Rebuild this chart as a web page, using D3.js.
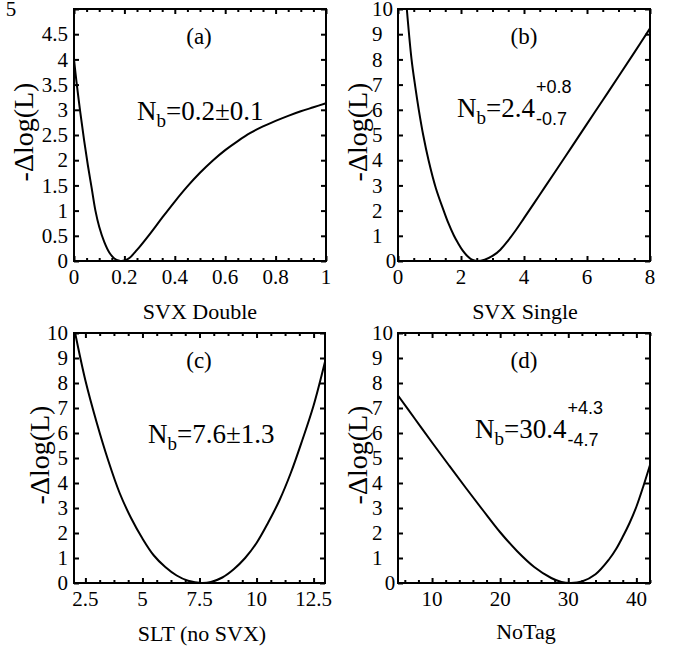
<!DOCTYPE html>
<html><head><meta charset="utf-8">
<script src="https://cdn.jsdelivr.net/npm/d3@7"></script>
<style>
body{margin:0;background:#fff}
svg{display:block}
text{font-family:"Liberation Serif","Times New Roman",serif;fill:#000}
</style>
</head><body>
<svg id="chart" width="677" height="650"></svg>
<script>
// ---------- data ----------
const aX = [0, 0.01, 0.025, 0.04, 0.055, 0.07, 0.085, 0.1, 0.12, 0.14, 0.16, 0.18, 0.19, 0.2, 0.22, 0.25, 0.3, 0.35, 0.4, 0.45, 0.5, 0.55, 0.6, 0.65, 0.7, 0.75, 0.8, 0.85, 0.9, 0.95, 1.0];
const aY = [4.0, 3.55, 2.95, 2.4, 1.9, 1.45, 1.0, 0.68, 0.38, 0.17, 0.05, 0.005, 0.0, 0.01, 0.06, 0.22, 0.53, 0.86, 1.18, 1.48, 1.75, 1.99, 2.2, 2.38, 2.54, 2.67, 2.78, 2.88, 2.97, 3.05, 3.13];

const bX = [0.28, 0.43, 0.55, 0.66, 0.8, 0.97, 1.2, 1.45, 1.6, 1.77, 1.9, 2.05, 2.2, 2.35, 2.5, 2.75, 3.0, 3.25, 3.5, 3.75, 4.0, 4.5, 5.0, 5.5, 6.0, 6.5, 7.0, 7.5, 8.0];
const bY = [10, 8, 6.9, 6, 5, 4, 2.9, 2.0, 1.5, 1.02, 0.72, 0.42, 0.2, 0.05, 0, 0.05, 0.2, 0.45, 0.82, 1.24, 1.7, 2.63, 3.56, 4.5, 5.44, 6.38, 7.32, 8.27, 9.23];

const cX = [2.05, 2.5, 3, 3.5, 4, 4.5, 5, 5.5, 6, 6.5, 7, 7.6, 8, 8.5, 9, 9.5, 10, 10.5, 11, 11.5, 12, 12.5, 13];
const cY = [10, 8.1, 6.4, 4.9, 3.6, 2.6, 1.78, 1.1, 0.64, 0.3, 0.09, 0, 0.04, 0.22, 0.55, 1.0, 1.6, 2.4, 3.3, 4.4, 5.7, 7.1, 8.85];

const dX = [5, 7.5, 10, 12.5, 15, 17.5, 20, 22.5, 25, 27.5, 29, 30.4, 32, 34, 36, 37, 38, 39, 40, 41, 42];
const dY = [7.5, 6.56, 5.62, 4.7, 3.79, 2.9, 2.03, 1.27, 0.64, 0.2, 0.04, 0, 0.06, 0.35, 0.95, 1.35, 1.85, 2.4, 3.05, 3.85, 4.72];

// tick values / labels
const aXTicks = [0, 0.2, 0.4, 0.6, 0.8, 1];
const aXTickLabels = ["0", "0.2", "0.4", "0.6", "0.8", "1"];
const aYTicks = [0, 0.5, 1, 1.5, 2, 2.5, 3, 3.5, 4, 4.5, 5];
const aYTickLabels = ["0", "0.5", "1", "1.5", "2", "2.5", "3", "3.5", "4", "4.5", "5"];
const bXTicks = [0, 2, 4, 6, 8];
const bXTickLabels = ["0", "2", "4", "6", "8"];
const cXTicks = [2.5, 5, 7.5, 10, 12.5];
const cXTickLabels = ["2.5", "5", "7.5", "10", "12.5"];
const dXTicks = [10, 20, 30, 40];
const dXTickLabels = ["10", "20", "30", "40"];
const yTicks10 = [0, 1, 2, 3, 4, 5, 6, 7, 8, 9, 10];
const yTickLabels10 = ["0", "1", "2", "3", "4", "5", "6", "7", "8", "9", "10"];

const panelTags = ["(a)", "(b)", "(c)", "(d)"];
const xTitles = ["SVX Double", "SVX Single", "SLT (no SVX)", "NoTag"];
const yTitle = "-\u0394log(L)";
const nbCentral = ["0.2", "2.4", "7.6", "30.4"];
const nbPlus = ["0.1", "+0.8", "1.3", "+4.3"];
const nbMinus = [null, "-0.7", null, "-4.7"];

// ---------- layout ----------
const svg = d3.select("#chart");
const panels = [
  {box:[74,326,9,261],  xd:[0,1],  yd:[0,5],  xs:aX, ys:aY, xt:aXTicks, xl:aXTickLabels, yt:aYTicks, yl:aYTickLabels, minor:0.05, minorStart:0,
   yTitleX:24, tag:[199,44], nb:[137,120], xtY:319, xTitleX:200, ylAnchor:"end", ylX:68, topLabelX:11},
  {box:[398,650,9,261], xd:[0,8],  yd:[0,10], xs:bX, ys:bY, xt:bXTicks, xl:bXTickLabels, yt:yTicks10, yl:yTickLabels10, minor:0.5, minorStart:0,
   yTitleX:358, tag:[524,44], nb:[457,117], xtY:319, xTitleX:525, ylAnchor:"start", ylX:372, zeroLabelX:391},
  {box:[74,325,333,583], xd:[2,13], yd:[0,10], xs:cX, ys:cY, xt:cXTicks, xl:cXTickLabels, yt:yTicks10, yl:yTickLabels10, minor:0.625, minorStart:2.5,
   yTitleX:40, tag:[199,368], nb:[148,443], xtY:641, xTitleX:202, ylAnchor:"end", ylX:68},
  {box:[398,650,333,583], xd:[5,42], yd:[0,10], xs:dX, ys:dY, xt:dXTicks, xl:dXTickLabels, yt:yTicks10, yl:yTickLabels10, minor:2, minorStart:6,
   yTitleX:358, tag:[524,368], nb:[475,438], xtY:639, xTitleX:526, ylAnchor:"start", ylX:372, zeroLabelX:390}
];

panels.forEach((p, i) => {
  const [x0, x1, y0, y1] = p.box;
  const x = d3.scaleLinear().domain(p.xd).range([x0, x1]);
  const y = d3.scaleLinear().domain(p.yd).range([y1, y0]);
  const g = svg.append("g");

  // minor x ticks
  const minors = [];
  for (let v = p.minorStart; v <= p.xd[1] + 1e-9; v += p.minor) {
    if (v >= p.xd[0] - 1e-9 && !p.xt.some(t => Math.abs(t - v) < 1e-6)) minors.push(v);
  }
  for (let v = p.minorStart - p.minor; v >= p.xd[0] - 1e-9; v -= p.minor) {
    if (!p.xt.some(t => Math.abs(t - v) < 1e-6)) minors.push(v);
  }

  const mkAxis = (gen, scale, vals, size) => gen(scale).tickValues(vals).tickSize(size).tickFormat("");
  const addAxis = (axis, tx, ty) => {
    const a = g.append("g").attr("transform", `translate(${tx},${ty})`).call(axis);
    a.select(".domain").remove();
    a.selectAll("line").attr("stroke", "#000").attr("stroke-width", 2);
  };
  addAxis(mkAxis(d3.axisTop, x, p.xt, 5), 0, y1);
  addAxis(mkAxis(d3.axisTop, x, minors, 3), 0, y1);
  addAxis(mkAxis(d3.axisBottom, x, p.xt, 5), 0, y0);
  addAxis(mkAxis(d3.axisBottom, x, minors, 3), 0, y0);
  addAxis(mkAxis(d3.axisRight, y, p.yt, 5), x0, 0);
  addAxis(mkAxis(d3.axisLeft, y, p.yt, 5), x1, 0);

  // frame
  g.append("rect").attr("x", x0).attr("y", y0).attr("width", x1 - x0).attr("height", y1 - y0)
    .attr("fill", "none").attr("stroke", "#000").attr("stroke-width", 2);

  // x tick labels
  g.selectAll(".xl").data(p.xt).enter().append("text")
    .attr("x", d => x(d)).attr("y", y1 + 23)
    .attr("text-anchor", "middle").attr("font-size", 21)
    .text((d, k) => p.xl[k]);

  // y tick labels
  const last = p.yt.length - 1;
  g.selectAll(".yl").data(p.yt).enter().append("text")
    .attr("x", (d, k) => (k === last && p.topLabelX) ? p.topLabelX : (k === 0 && p.zeroLabelX) ? p.zeroLabelX : p.ylX)
    .attr("y", d => y(d)).attr("dy", "0.34em")
    .attr("text-anchor", (d, k) => (k === last && p.topLabelX) || (k === 0 && p.zeroLabelX) ? "middle" : p.ylAnchor)
    .attr("font-size", 21)
    .text((d, k) => p.yl[k]);

  // curve
  const line = d3.line().x((d, k) => x(p.xs[k])).y(d => y(d)).curve(d3.curveCatmullRom.alpha(0.5));
  g.append("path").datum(p.ys).attr("d", line)
    .attr("fill", "none").attr("stroke", "#000").attr("stroke-width", 2);

  // x title
  g.append("text").attr("x", p.xTitleX).attr("y", p.xtY).attr("text-anchor", "middle")
    .attr("font-size", 22).text(xTitles[i]);

  // y title
  g.append("text").attr("transform", `translate(${p.yTitleX + 9},${(y0 + y1) / 2 - 3}) rotate(-90)`)
    .attr("text-anchor", "middle").attr("font-size", 28).text(yTitle);

  // panel tag
  g.append("text").attr("x", p.tag[0]).attr("y", p.tag[1]).attr("text-anchor", "middle")
    .attr("font-size", 23).text(panelTags[i]);

  // N_b annotation
  const t = g.append("text").attr("x", p.nb[0]).attr("y", p.nb[1]).attr("font-size", 27);
  t.append("tspan").text("N");
  t.append("tspan").attr("font-size", 19).attr("dy", 7).text("b");
  if (nbMinus[i] === null) {
    t.append("tspan").attr("dy", -7).text("=" + nbCentral[i] + "\u00b1" + nbPlus[i]);
  } else {
    t.append("tspan").attr("dy", -7).text("=" + nbCentral[i]);
    const w = t.node().getComputedTextLength();
    g.append("text").attr("x", p.nb[0] + w + 1).attr("y", p.nb[1] - 24)
      .attr("font-size", 18).style("font-family", "'Liberation Sans',Arial,sans-serif").text(nbPlus[i]);
    g.append("text").attr("x", p.nb[0] + w + 1).attr("y", p.nb[1] + 8)
      .attr("font-size", 18).style("font-family", "'Liberation Sans',Arial,sans-serif").text(nbMinus[i]);
  }
});
</script>
</body></html>
